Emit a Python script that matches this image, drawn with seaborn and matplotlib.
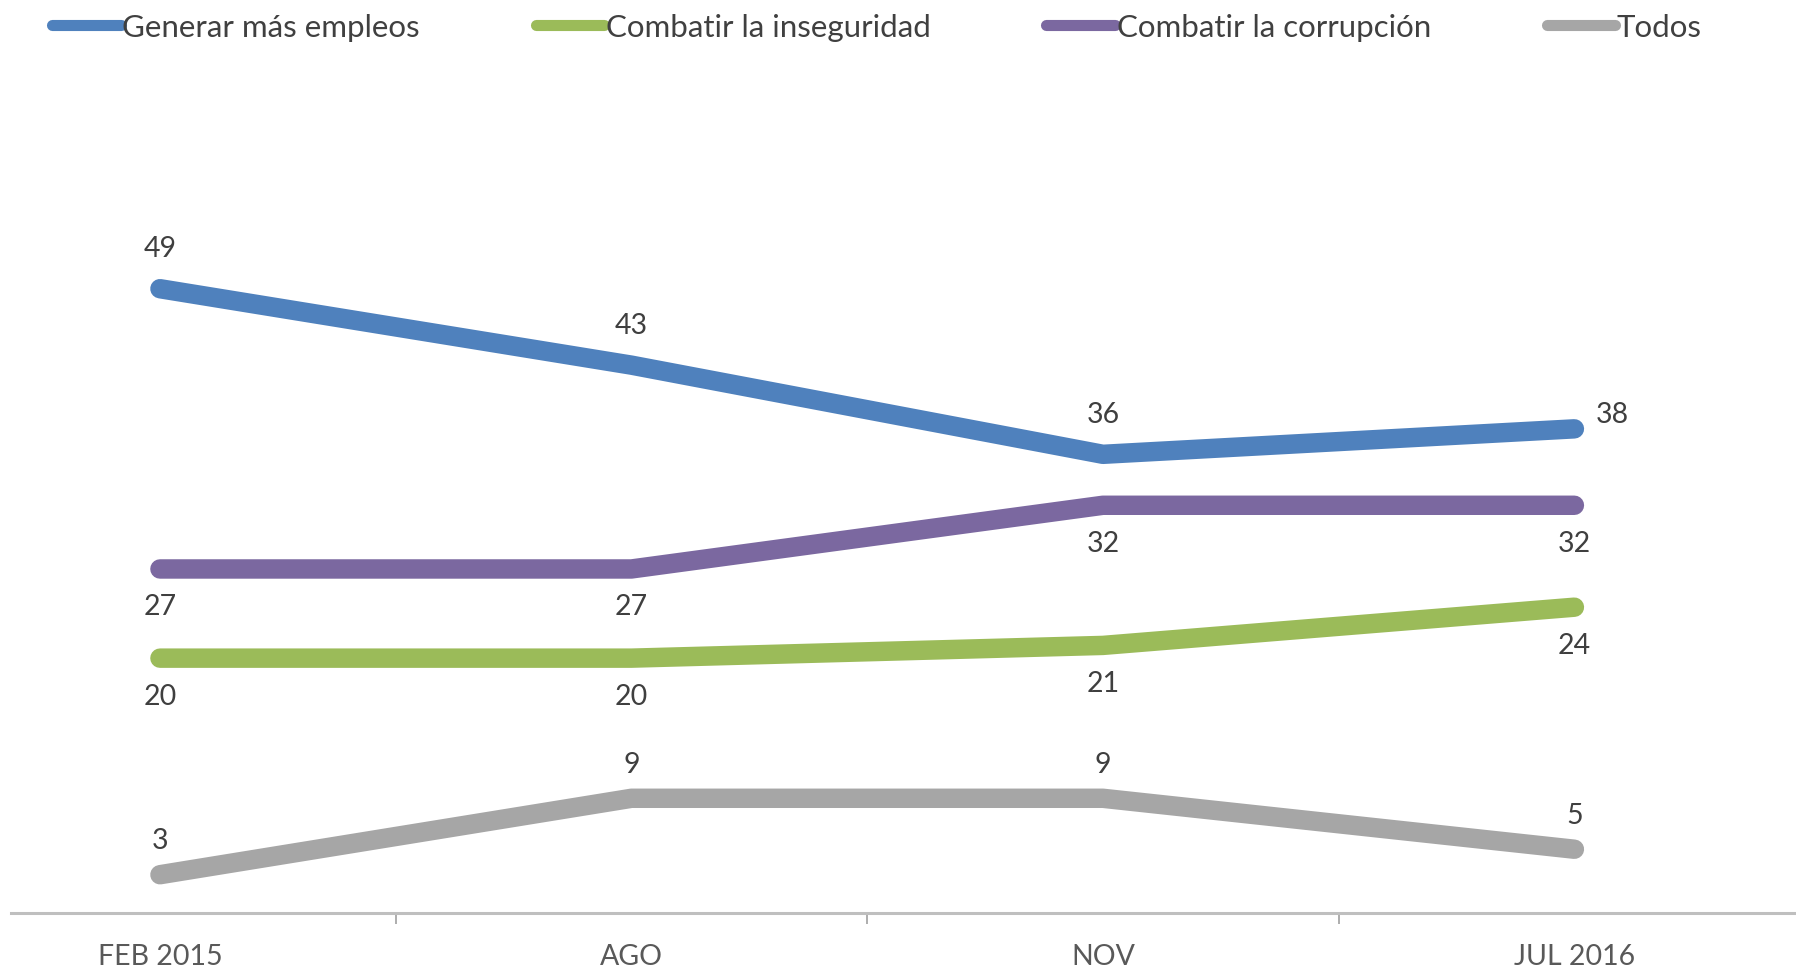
import pandas
import seaborn
import matplotlib.pyplot as plt

# data
periods = ["FEB 2015", "AGO", "NOV", "JUL 2016"]
series_names = [
    "Generar más empleos",
    "Combatir la inseguridad",
    "Combatir la corrupción",
    "Todos",
]
empleos = [49, 43, 36, 38]
inseguridad = [20, 20, 21, 24]
corrupcion = [27, 27, 32, 32]
todos = [3, 9, 9, 5]

colors = ["#4F81BD", "#9BBB59", "#7B68A0", "#A6A6A6"]
# label offsets (points) above (+) or below (-) each point
label_dy = [29, -27, -27, 25]

seaborn.set_style("white")
plt.rcParams["font.family"] = ["Lato", "DejaVu Sans"]

# long table for seaborn
values = [empleos, inseguridad, corrupcion, todos]
rows = []
for name, vals in zip(series_names, values):
    for i, (period, v) in enumerate(zip(periods, vals)):
        rows.append({"periodo": period, "x": i, "serie": name, "valor": v})
df = pandas.DataFrame(rows)

fig = plt.figure(figsize=(17.96, 9.70), dpi=100)
ax = fig.add_axes([0.0061, 0.0578, 0.9939, 0.788])

seaborn.lineplot(
    data=df,
    x="x",
    y="valor",
    hue="serie",
    hue_order=series_names,
    palette=colors,
    linewidth=14,
    solid_capstyle="round",
    solid_joinstyle="round",
    sort=False,
    legend=False,
    ax=ax,
)

# value labels
for s, (name, vals) in enumerate(zip(series_names, values)):
    for i, v in enumerate(vals):
        dx, dy = 0, label_dy[s]
        if s == 0 and i == len(vals) - 1:
            dx, dy = 27, 11
        ax.annotate(
            str(v),
            xy=(i, v),
            xytext=(dx, dy),
            textcoords="offset points",
            ha="center",
            va="center",
            fontsize=20.5,
            color="#3F3F3F",
        )

ax.set_xlim(-0.316, 3.47)
ax.set_ylim(0, 60)
ax.set_xticks(range(len(periods)))
ax.set_xticklabels(periods, fontsize=20.5, color="#595959")
ax.set_xticks([0.5, 1.5, 2.5], minor=True)
ax.tick_params(axis="x", which="major", length=0, pad=22, bottom=True)
ax.tick_params(
    axis="x", which="minor", length=8, width=1.2, color="#A0A0A0",
    direction="out", bottom=True,
)
ax.set_yticks([])
ax.set_xlabel("")
ax.set_ylabel("")
for side in ["top", "right", "left"]:
    ax.spines[side].set_visible(False)
ax.spines["bottom"].set_color("#BFBFBF")
ax.spines["bottom"].set_linewidth(2.2)

# legend across the top
handles = [
    plt.Line2D([], [], color=c, linewidth=8, solid_capstyle="round") for c in colors
]
fig.legend(
    handles,
    series_names,
    loc="center left",
    bbox_to_anchor=(0.029, 0.9715),
    ncol=4,
    frameon=False,
    fontsize=22.5,
    handlelength=2.2,
    handletextpad=0.05,
    columnspacing=3.7,
    borderpad=0,
    borderaxespad=0,
    labelcolor="#404040",
)

plt.savefig("out.png", dpi=100)
plt.close()
